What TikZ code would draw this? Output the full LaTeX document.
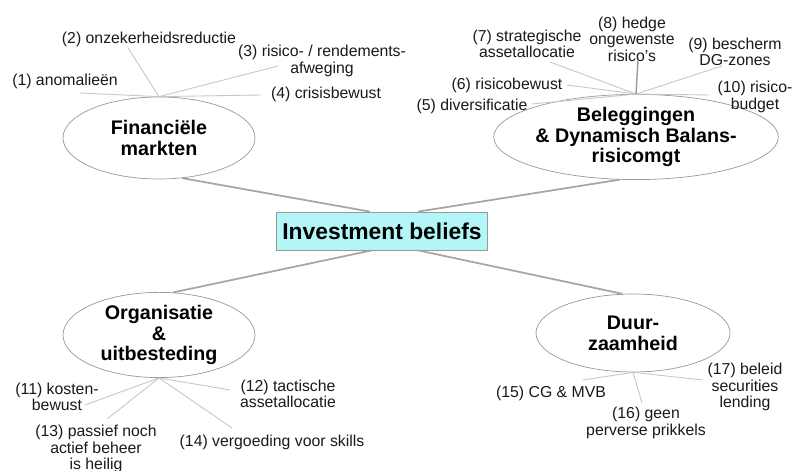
\documentclass[tikz,border=0pt]{standalone}
\usepackage{fontspec}
\setmainfont{Liberation Sans}
\usetikzlibrary{shapes.geometric}

\definecolor{boxcyan}{RGB}{178,246,248}

\begin{document}
\begin{tikzpicture}[
        topic/.style={ellipse, draw=gray!80, fill=white, inner sep=0pt, align=center,
            font=\fontsize{11.2}{11.9}\selectfont\bfseries},
        belief/.style={align=center, inner sep=1pt, text=black!90,
            font=\fontsize{9}{9.4}\selectfont},
        spoke/.style={draw=gray!45, line width=0.5pt},
        mainline/.style={draw=gray!70, line width=1pt}
    ]
        \useasboundingbox (0,0) rectangle (15.94,9.42);

        % the central box
        \node[draw=gray!80, fill=boxcyan, minimum width=4.12cm, minimum height=0.76cm,
            font=\fontsize{13}{14}\selectfont\bfseries] (ib) at (7.64,4.80) {Investment beliefs};

        % draw the four themes
        \node[topic, minimum width=3.84cm, minimum height=1.64cm] (fin) at (3.18,6.66) {Financiële\\markten};
        \node[topic, minimum width=4.64cm, minimum height=1.66cm] (bel) at (12.72,6.68) {Beleggingen\\\& Dynamisch Balans-\\risicomgt};
        \node[topic, minimum width=3.84cm, minimum height=1.68cm] (org) at (3.18,2.72) {Organisatie\\\&\\uitbesteding};
        \node[topic, minimum width=3.88cm, minimum height=1.56cm] (duu) at (12.66,2.76) {Duur-\\zaamheid};

        % the main lines from the box to the themes
        \draw[mainline] (fin.-60) -- ([xshift=-0.24cm]ib.north);
        \draw[mainline] (bel.-111) -- ([xshift=0.72cm]ib.north);
        \draw[mainline] (org.72) -- ([xshift=-0.20cm]ib.south);
        \draw[mainline] (duu.105) -- ([xshift=0.72cm]ib.south);

        % the beliefs round each theme
        \node[belief] (b1) at (1.30,7.80) {(1) anomalieën};
        \node[belief] (b2) at (2.98,8.64) {(2) onzekerheidsreductie};
        \node[belief] (b3) at (6.44,8.20) {(3) risico- / rendements-\\afweging};
        \node[belief] (b4) at (6.52,7.54) {(4) crisisbewust};
        \node[belief] (b5) at (9.44,7.30) {(5) diversificatie};
        \node[belief] (b6) at (10.14,7.72) {(6) risicobewust};
        \node[belief] (b7) at (10.54,8.54) {(7) strategische\\assetallocatie};
        \node[belief] (b8) at (12.64,8.64) {(8) hedge\\ongewenste\\risico's};
        \node[belief] (b9) at (14.70,8.38) {(9) bescherm\\DG-zones};
        \node[belief] (b10) at (15.10,7.48) {(10) risico-\\budget};
        \node[belief] (b11) at (1.14,1.48) {(11) kosten-\\bewust};
        \node[belief] (b12) at (5.76,1.54) {(12) tactische\\assetallocatie};
        \node[belief] (b13) at (1.92,0.44) {(13) passief noch\\actief beheer\\is heilig};
        \node[belief] (b14) at (5.44,0.58) {(14) vergoeding voor skills};
        \node[belief] (b15) at (11.02,1.56) {(15) CG \& MVB};
        \node[belief] (b16) at (12.92,0.96) {(16) geen\\perverse prikkels};
        \node[belief] (b17) at (14.90,1.68) {(17) beleid\\securities\\lending};

        % loose ends of the spokes, just beside the texts
        \coordinate (e1) at (1.60,7.56);
        \coordinate (e2) at (2.56,8.46);
        \coordinate (e3) at (5.56,8.10);
        \coordinate (e4) at (5.22,7.52);
        \coordinate (e5) at (10.64,7.34);
        \coordinate (e6) at (11.34,7.72);
        \coordinate (e7) at (11.00,8.18);
        \coordinate (e8) at (12.76,8.22);
        \coordinate (e9) at (14.44,8.10);
        \coordinate (e10) at (14.20,7.52);
        \coordinate (e11) at (1.70,1.32);
        \coordinate (e12) at (4.60,1.62);
        \coordinate (e13) at (2.14,1.04);
        \coordinate (e14) at (4.64,0.86);
        \coordinate (e15) at (11.66,1.82);
        \coordinate (e16) at (12.84,1.36);
        \coordinate (e17) at (14.06,1.82);

        % draw the spokes
        \foreach \i in {1,2,3,4} \draw[spoke] (fin.north) -- (e\i);
        \foreach \i in {5,6,7,9,10} \draw[spoke] (bel.north) -- (e\i);
        \draw[spoke, draw=gray!80, line width=0.8pt] (bel.north) -- (e8);
        \foreach \i in {11,12,13,14} \draw[spoke] (org.south) -- (e\i);
        \foreach \i in {15,16,17} \draw[spoke] (duu.south) -- (e\i);

    \end{tikzpicture}
\end{document}
